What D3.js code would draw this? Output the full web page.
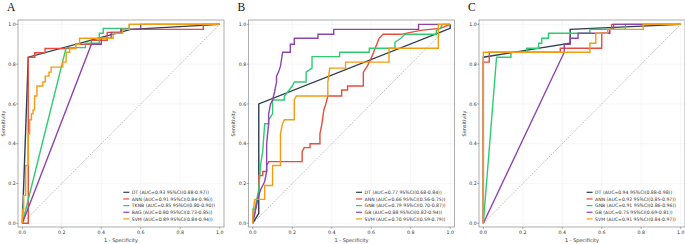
<!DOCTYPE html>
<html>
<head>
<meta charset="UTF-8">
<script src="https://cdnjs.cloudflare.com/ajax/libs/d3/7.8.5/d3.min.js"></script>
<style>
  body { margin: 0; background: #fff; }
  svg { display: block; font-family: "DejaVu Sans", sans-serif; }
  .tick-label { font-size: 4.7px; fill: #333; }
  .axis-title { font-size: 5px; fill: #333; }
  .legend-text { font-size: 4.6px; fill: #333; }
  .panel-letter { font-family: "Liberation Serif", "DejaVu Serif", serif; font-size: 11.5px; fill: #111; }
</style>
</head>
<body>
<div id="chart"></div>
<script>
// ROC points [1 - specificity, sensitivity]
const rocA_DT   = [[0,0],[0.03,0.835],[0.55,0.975],[1,1]];
const rocA_ANN  = [[0,0],[0.03,0],[0.03,0.835],[0.063,0.835],[0.063,0.857],[0.115,0.857],[0.115,0.879],[0.27,0.879],[0.27,0.9],[0.35,0.9],[0.35,0.92],[0.43,0.92],[0.43,0.96],[0.5,0.96],[0.5,0.975],[0.917,0.975],[0.917,1],[1,1]];
const rocA_TKNB = [[0,0],[0.222,0.883],[0.32,0.883],[0.32,0.905],[0.39,0.905],[0.39,0.955],[0.41,0.955],[0.41,0.98],[0.542,0.98],[0.542,1],[1,1]];
const rocA_BAG  = [[0,0],[0.35,0.9],[0.4,0.9],[0.4,0.93],[0.45,0.93],[0.45,0.96],[0.5,0.96],[0.5,0.975],[0.6,0.975],[0.6,1],[1,1]];
const rocA_SVM  = [[0,0],[0,0.07],[0.007,0.07],[0.007,0.14],[0.017,0.14],[0.017,0.29],[0.03,0.29],[0.03,0.45],[0.037,0.45],[0.037,0.52],[0.046,0.52],[0.046,0.55],[0.054,0.55],[0.054,0.57],[0.062,0.57],[0.062,0.64],[0.074,0.64],[0.074,0.69],[0.104,0.69],[0.104,0.71],[0.116,0.71],[0.116,0.74],[0.135,0.74],[0.135,0.76],[0.146,0.76],[0.146,0.785],[0.205,0.785],[0.205,0.81],[0.222,0.81],[0.222,0.86],[0.24,0.86],[0.24,0.88],[0.27,0.88],[0.27,0.9],[0.29,0.9],[0.29,0.93],[0.46,0.93],[0.46,0.955],[0.508,0.955],[0.508,0.975],[0.542,0.975],[0.542,1],[1,1]];

const rocB_DT  = [[0,0],[0.03,0.05],[0.03,0.6],[1,0.98],[1,1]];
const rocB_ANN = [[0,0],[0,0.02],[0.01,0.05],[0.02,0.1],[0.02,0.12],[0.03,0.14],[0.03,0.24],[0.05,0.24],[0.05,0.26],[0.07,0.26],[0.07,0.29],[0.08,0.31],[0.25,0.31],[0.25,0.36],[0.26,0.38],[0.29,0.38],[0.29,0.4],[0.34,0.4],[0.34,0.45],[0.35,0.5],[0.36,0.57],[0.37,0.6],[0.38,0.64],[0.45,0.64],[0.45,0.67],[0.48,0.67],[0.48,0.69],[0.56,0.69],[0.56,0.76],[0.58,0.79],[0.6,0.83],[0.62,0.88],[0.64,0.93],[0.66,0.95],[0.75,0.95],[0.85,0.97],[0.95,0.98],[1,1]];
const rocB_GNB = [[0,0],[0,0.07],[0.01,0.07],[0.02,0.12],[0.03,0.17],[0.04,0.3],[0.05,0.36],[0.06,0.5],[0.08,0.5],[0.08,0.52],[0.1,0.55],[0.1,0.62],[0.16,0.62],[0.16,0.64],[0.2,0.69],[0.21,0.71],[0.27,0.71],[0.27,0.76],[0.3,0.78],[0.3,0.838],[0.44,0.838],[0.44,0.86],[0.59,0.86],[0.59,0.88],[0.72,0.88],[0.72,0.91],[0.75,0.93],[0.77,0.95],[0.93,0.95],[0.93,0.97],[0.95,0.98],[0.96,1],[1,1]];
const rocB_GB  = [[0,0],[0.01,0.05],[0.02,0.1],[0.03,0.14],[0.04,0.17],[0.05,0.19],[0.06,0.21],[0.07,0.26],[0.07,0.4],[0.08,0.5],[0.08,0.55],[0.09,0.6],[0.1,0.62],[0.11,0.66],[0.12,0.71],[0.12,0.74],[0.13,0.76],[0.14,0.79],[0.151,0.86],[0.19,0.86],[0.19,0.9],[0.21,0.9],[0.21,0.93],[0.33,0.93],[0.33,0.95],[0.41,0.95],[0.41,0.975],[0.84,0.975],[0.84,1],[1,1]];
const rocB_SVM = [[0,0],[0,0.05],[0.01,0.12],[0.06,0.12],[0.06,0.19],[0.1,0.19],[0.1,0.29],[0.14,0.29],[0.14,0.45],[0.15,0.5],[0.16,0.52],[0.21,0.52],[0.21,0.62],[0.22,0.64],[0.38,0.64],[0.38,0.71],[0.39,0.78],[0.47,0.78],[0.47,0.81],[0.69,0.81],[0.69,0.88],[0.94,0.88],[0.94,1],[1,1]];

const rocC_DT  = [[0,0],[0,0.835],[0.44,0.905],[0.44,0.975],[1,1]];
const rocC_ANN = [[0,0],[0,0.81],[0.03,0.81],[0.03,0.86],[0.39,0.86],[0.39,0.88],[0.6,0.88],[0.6,0.955],[0.64,0.955],[0.64,0.975],[0.65,0.975],[0.65,1],[1,1]];
const rocC_GNB = [[0,0],[0.067,0.835],[0.14,0.835],[0.14,0.86],[0.22,0.86],[0.22,0.88],[0.28,0.88],[0.28,0.905],[0.296,0.905],[0.296,0.93],[0.33,0.93],[0.33,0.955],[0.54,0.955],[0.54,0.975],[0.72,0.975],[0.72,1],[1,1]];
const rocC_GB  = [[0,0],[0.41,0.86],[0.41,0.9],[0.44,0.9],[0.44,0.93],[0.48,0.93],[0.48,0.955],[0.64,0.955],[0.64,0.975],[0.66,0.975],[0.66,1],[1,1]];
const rocC_SVM = [[0,0],[0,0.86],[0.54,0.86],[0.54,0.905],[0.57,0.905],[0.57,0.955],[0.63,0.955],[0.63,0.975],[0.81,0.975],[0.81,1],[1,1]];

const labelsA = ["DT (AUC=0.93 95%CI(0.88-0.97))","ANN (AUC=0.91 95%CI(0.84-0.96))","TKNB (AUC=0.85 95%CI(0.80-0.90))","BAG (AUC=0.80 95%CI(0.73-0.85))","SVM (AUC=0.89 95%CI(0.84-0.94))"];
const labelsB = ["DT (AUC=0.77 95%CI(0.68-0.84))","ANN (AUC=0.66 95%CI(0.56-0.75))","GNB (AUC=0.79 95%CI(0.70-0.87))","GB (AUC=0.88 95%CI(0.82-0.94))","SVM (AUC=0.70 95%CI(0.59-0.79))"];
const labelsC = ["DT (AUC=0.94 95%CI(0.88-0.98))","ANN (AUC=0.92 95%CI(0.85-0.97))","GNB (AUC=0.91 95%CI(0.86-0.96))","GB (AUC=0.75 95%CI(0.69-0.81))","SVM (AUC=0.91 95%CI(0.84-0.97))"];

const colors = ["#2c3e50", "#e74c3c", "#2ecc71", "#8e44ad", "#f39c12"];
const ticks = [0, 0.2, 0.4, 0.6, 0.8, 1.0];
const letters = ["A", "B", "C"];

const panels = [
  { curves: [rocA_DT, rocA_ANN, rocA_TKNB, rocA_BAG, rocA_SVM], labels: labelsA },
  { curves: [rocB_DT, rocB_ANN, rocB_GNB, rocB_GB, rocB_SVM], labels: labelsB },
  { curves: [rocC_DT, rocC_ANN, rocC_GNB, rocC_GB, rocC_SVM], labels: labelsC }
];

const W = 685, H = 244;
const svg = d3.select("#chart").append("svg").attr("width", W).attr("height", H);

const plotTop = 20, plotBottom = 227, panelW = 206, step = 230.5, firstLeft = 18;

panels.forEach((p, i) => {
  const left = firstLeft + i * step, right = left + panelW;
  const x = d3.scaleLinear().domain([-0.022, 1.022]).range([left, right]);
  const y = d3.scaleLinear().domain([-0.019, 1.022]).range([plotBottom, plotTop]);
  const g = svg.append("g");

  // grid
  g.selectAll(".gx").data(ticks).enter().append("line")
    .attr("x1", d => x(d)).attr("x2", d => x(d)).attr("y1", plotTop).attr("y2", plotBottom)
    .attr("stroke", "#ececec").attr("stroke-width", 0.5);
  g.selectAll(".gy").data(ticks).enter().append("line")
    .attr("y1", d => y(d)).attr("y2", d => y(d)).attr("x1", left).attr("x2", right)
    .attr("stroke", "#ececec").attr("stroke-width", 0.5);

  // diagonal reference
  g.append("line")
    .attr("x1", x(0)).attr("y1", y(0)).attr("x2", x(1)).attr("y2", y(1))
    .attr("stroke", "#999").attr("stroke-width", 0.6).attr("stroke-dasharray", "1.8,1.2");

  // curves
  const line = d3.line().x(d => x(d[0])).y(d => y(d[1]));
  p.curves.forEach((c, k) => {
    g.append("path").datum(c).attr("d", line)
      .attr("fill", "none").attr("stroke", colors[k]).attr("stroke-width", 1.4)
      .attr("stroke-linejoin", "miter");
  });

  // frame
  g.append("rect").attr("x", left).attr("y", plotTop).attr("width", panelW).attr("height", plotBottom - plotTop)
    .attr("fill", "none").attr("stroke", "#8a8a8a").attr("stroke-width", 0.7);

  // ticks and labels
  g.selectAll(".tx").data(ticks).enter().append("line")
    .attr("x1", d => x(d)).attr("x2", d => x(d)).attr("y1", plotBottom).attr("y2", plotBottom + 1.8)
    .attr("stroke", "#555").attr("stroke-width", 0.5);
  g.selectAll(".txl").data(ticks).enter().append("text").attr("class", "tick-label")
    .attr("x", d => x(d)).attr("y", plotBottom + 7.3).attr("text-anchor", "middle")
    .text(d => d.toFixed(1));
  g.selectAll(".ty").data(ticks).enter().append("line")
    .attr("y1", d => y(d)).attr("y2", d => y(d)).attr("x1", left - 1.8).attr("x2", left)
    .attr("stroke", "#555").attr("stroke-width", 0.5);
  g.selectAll(".tyl").data(ticks).enter().append("text").attr("class", "tick-label")
    .attr("x", left - 2.3).attr("y", d => y(d)).attr("dy", "0.35em").attr("text-anchor", "end")
    .text(d => d.toFixed(1));

  // axis titles
  g.append("text").attr("class", "axis-title")
    .attr("x", (left + right) / 2).attr("y", 241.5).attr("text-anchor", "middle")
    .text("1 - Specificity");
  g.append("text").attr("class", "axis-title")
    .attr("transform", `translate(${left - 13.5},${(plotTop + plotBottom) / 2}) rotate(-90)`)
    .attr("text-anchor", "middle").text("Sensitivity");

  // panel letter
  g.append("text").attr("class", "panel-letter")
    .attr("x", left - 11).attr("y", 11).text(letters[i]);

  // legend (right-aligned inside lower right corner)
  const leg = g.append("g");
  const texts = leg.selectAll("text").data(p.labels).enter().append("text")
    .attr("class", "legend-text")
    .attr("y", (d, k) => 192.3 + k * 6.65).attr("dy", "0.35em")
    .text(d => d);
  let maxW = 0;
  texts.each(function() { maxW = Math.max(maxW, this.getComputedTextLength()); });
  const tx = right - 9 - maxW;
  texts.attr("x", tx);
  leg.selectAll("line").data(p.labels).enter().append("line")
    .attr("x1", tx - 8.5).attr("x2", tx - 2.5)
    .attr("y1", (d, k) => 192.3 + k * 6.65).attr("y2", (d, k) => 192.3 + k * 6.65)
    .attr("stroke", (d, k) => colors[k]).attr("stroke-width", 1.2);
});
</script>
</body>
</html>
